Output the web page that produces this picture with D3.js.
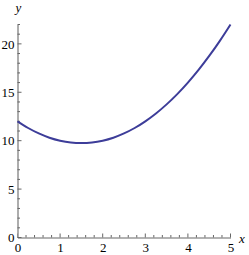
<!DOCTYPE html>
<html><head><meta charset="utf-8">
<script src="https://cdn.jsdelivr.net/npm/d3@7"></script>
<style>html,body{margin:0;padding:0;background:#fff;}svg{display:block;}</style>
</head><body>
<svg id="c" width="249" height="255"></svg>
<script>
const xValues = [0,0.25,0.5,0.75,1,1.25,1.5,1.75,2,2.25,2.5,2.75,3,3.25,3.5,3.75,4,4.25,4.5,4.75,5];
const yValues = [12,11.31,10.75,10.31,10,9.81,9.75,9.81,10,10.31,10.75,11.31,12,12.81,13.75,14.81,16,17.31,18.75,20.31,22];
const xTicks = [0,1,2,3,4,5];
const yTicks = [0,5,10,15,20];

const svg = d3.select("#c");
const x = d3.scaleLinear().domain([0,5]).range([17.5,230.5]);
const y = d3.scaleLinear().domain([0,22]).range([237.5,24.5]);
const axisColor = "#999";
const font = "Liberation Serif";

const xMinor = d3.range(0,5.001,0.2).filter(v=>Math.abs(v-Math.round(v))>1e-6);
const yMinor = d3.range(0,22.001,1).filter(v=>v%5!==0);

const xAxis = d3.axisBottom(x).tickValues(xTicks).tickFormat(d3.format("d")).tickSize(0).tickPadding(0);
const gx = svg.append("g").attr("transform",`translate(0,${y(0)})`).call(xAxis);
gx.attr("font-family",font).attr("font-size",13);
gx.select(".domain").attr("stroke",axisColor).attr("stroke-width",1.6);
gx.selectAll("text").attr("fill","#000").attr("dy",null).attr("y",14);
gx.selectAll(".tick line").remove();
gx.selectAll(".maj").data(xTicks).enter().append("line").attr("x1",d=>x(d)).attr("x2",d=>x(d)).attr("y1",0).attr("y2",-4).attr("stroke","#666");
gx.selectAll(".min").data(xMinor).enter().append("line").attr("x1",d=>x(d)).attr("x2",d=>x(d)).attr("y1",0).attr("y2",-2.5).attr("stroke","#666");

const yAxis = d3.axisLeft(y).tickValues(yTicks).tickFormat(d3.format("d")).tickSize(0).tickPadding(3);
const gy = svg.append("g").attr("transform",`translate(${x(0)},0)`).call(yAxis);
gy.attr("font-family",font).attr("font-size",13);
gy.select(".domain").attr("stroke",axisColor).attr("stroke-width",1.6);
gy.selectAll("text").attr("fill","#000");
gy.selectAll(".tick line").remove();
gy.selectAll(".maj").data(yTicks).enter().append("line").attr("y1",d=>y(d)).attr("y2",d=>y(d)).attr("x1",0).attr("x2",4).attr("stroke","#666");
gy.selectAll(".min").data(yMinor).enter().append("line").attr("y1",d=>y(d)).attr("y2",d=>y(d)).attr("x1",0).attr("x2",2.5).attr("stroke","#666");

const pts = xValues.map((v,i)=>[v,yValues[i]]);
svg.append("path").datum(pts)
  .attr("d", d3.line().x(d=>x(d[0])).y(d=>y(d[1])).curve(d3.curveCatmullRom))
  .attr("fill","none").attr("stroke","#3d3d99").attr("stroke-width",2);

svg.append("text").attr("x",x(0)+1).attr("y",12).attr("text-anchor","middle")
  .attr("font-family",font).attr("font-style","italic").attr("font-size",13).text("y");
svg.append("text").attr("x",242).attr("y",y(0)+5).attr("text-anchor","middle")
  .attr("font-family",font).attr("font-style","italic").attr("font-size",13).text("x");
</script>
</body></html>
